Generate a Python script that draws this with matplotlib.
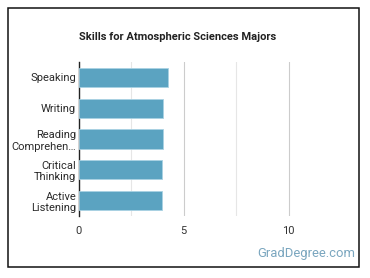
import matplotlib
matplotlib.use("Agg")
import matplotlib.pyplot as plt
from matplotlib.patches import Rectangle

plt.rcParams['font.family'] = ['Roboto', 'DejaVu Sans']

categories = ["Speaking", "Writing", "Reading\nComprehen…", "Critical\nThinking", "Active\nListening"]
values = [4.24, 4.0, 4.0, 3.95, 3.95]
xticks = [0, 5, 10]
title = "Skills for Atmospheric Sciences Majors"

fig = plt.figure(figsize=(3.70, 2.78), dpi=100)
ax = fig.add_axes([79/370, 1-216/278, (341-79)/370, (216-62)/278])

ypos = list(range(len(categories)))
ax.barh(ypos, values, height=0.62, color="#5ba3c1", edgecolor="#a9d2e3", linewidth=0.6, zorder=3)
ax.set_ylim(len(categories)-0.5, -0.5)
ax.set_xlim(0, 12.5)
ax.set_yticks(ypos)
ax.set_yticklabels(categories, fontsize=8, color="#2a2a2a", linespacing=1.2)
ax.set_xticks(xticks)
ax.set_xticklabels([str(t) for t in xticks], fontsize=8, color="#333333")
ax.set_xticks([2.5, 7.5], minor=True)
ax.grid(axis='x', which='major', color="#cccccc", linewidth=0.8, zorder=0)
ax.grid(axis='x', which='minor', color="#e6e6e6", linewidth=0.8, zorder=0)
ax.tick_params(axis='both', which='both', length=0)
ax.tick_params(axis='x', pad=7)
ax.tick_params(axis='y', pad=2)
for s in ['top', 'right', 'bottom']:
    ax.spines[s].set_visible(False)
ax.spines['left'].set_color('#222222')
ax.spines['left'].set_linewidth(1.0)
ax.set_axisbelow(True)

fig.text(178/370, 1-37/278, title, ha='center', va='center', fontsize=8, fontweight='bold', color='#222222')
fig.text(355/370, 1-254/278, "GradDegree.com", ha='right', va='center', fontsize=9.4, color='#7aa6bf')

border = Rectangle((8/370, 1-267/278), (359-8)/370, (267-8)/278, transform=fig.transFigure,
                   fill=False, edgecolor='#111111', linewidth=1.1)
fig.patches.append(border)

fig.savefig("out.png", dpi=100)
